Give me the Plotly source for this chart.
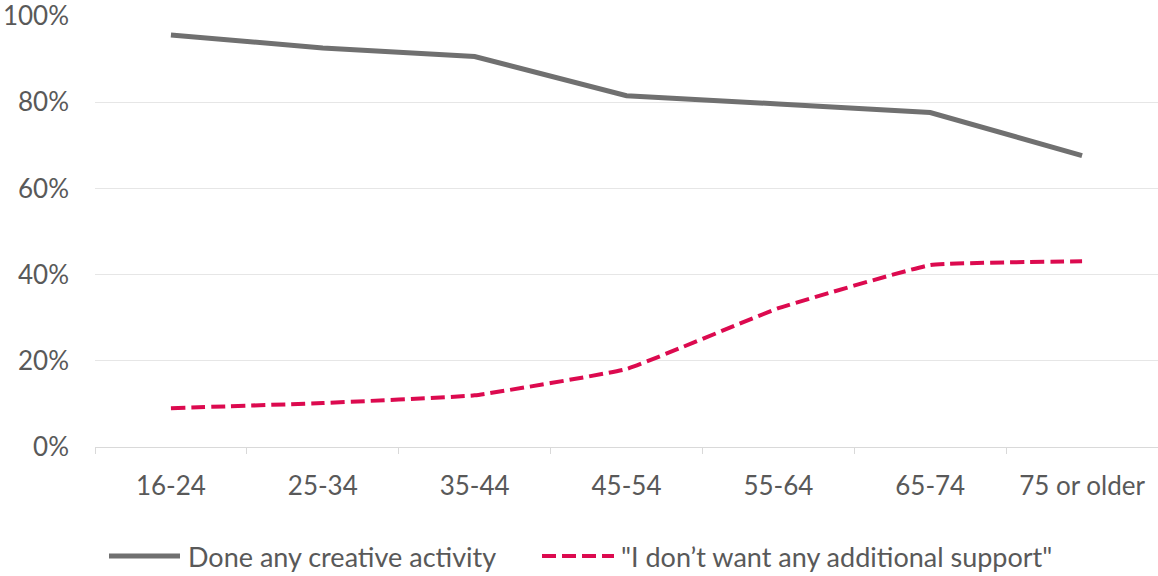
import plotly.graph_objects as go

categories = ["16-24", "25-34", "35-44", "45-54", "55-64", "65-74", "75 or older"]
creative = [0.956, 0.926, 0.906, 0.815, 0.796, 0.776, 0.676]
no_support = [0.09, 0.102, 0.12, 0.181, 0.322, 0.422, 0.431]
series_names = ["Done any creative activity", "\"I don\u2019t want any additional support\""]
y_ticks = [0, 0.2, 0.4, 0.6, 0.8, 1.0]

FONT = "Lato, 'Open Sans', sans-serif"
TXT = "#595959"
GREY = "#707070"
RED = "#DC0A4F"
FS = 26

W, H = 1158, 576
L, R, T, B = 95, 0, 16, 129
PW = W - L - R
PH = H - T - B


def px_x(p):
    return (p - L) / PW


def px_y(p):
    return (H - B - p) / PH


fig = go.Figure()
fig.add_trace(go.Scatter(
    x=categories, y=creative, mode="lines", name=series_names[0],
    line=dict(color=GREY, width=5), showlegend=False,
))
fig.add_trace(go.Scatter(
    x=categories, y=no_support, mode="lines", name=series_names[1],
    line=dict(color=RED, width=4, dash="14px,6px", shape="spline", smoothing=0.3),
    showlegend=False,
))

# custom legend
leg_y = px_y(556)
fig.add_shape(type="line", xref="paper", yref="paper", x0=px_x(109), x1=px_x(180),
              y0=leg_y, y1=leg_y, line=dict(color=GREY, width=5))
fig.add_annotation(xref="paper", yref="paper", x=px_x(186), y=leg_y, text=series_names[0],
                   showarrow=False, xanchor="left", yanchor="middle",
                   font=dict(family=FONT, size=27, color=TXT))
fig.add_shape(type="line", xref="paper", yref="paper", x0=px_x(542), x1=px_x(614),
              y0=leg_y, y1=leg_y, line=dict(color=RED, width=4, dash="14px,6px"))
fig.add_annotation(xref="paper", yref="paper", x=px_x(619), y=leg_y, text=series_names[1],
                   showarrow=False, xanchor="left", yanchor="middle",
                   font=dict(family=FONT, size=27, color=TXT))

fig.update_layout(
    width=W, height=H,
    margin=dict(l=L, r=R, t=T, b=B),
    paper_bgcolor="white", plot_bgcolor="white",
    font=dict(family=FONT, size=FS, color=TXT),
    showlegend=False,
    xaxis=dict(
        type="category", showgrid=False, showline=True, linecolor="#d9d9d9", linewidth=1,
        ticks="outside", tickson="boundaries", ticklen=6, tickcolor="#d9d9d9",
        ticklabelstandoff=16, tickfont=dict(family=FONT, size=FS, color=TXT),
        zeroline=False, range=[-0.5, 6.5],
    ),
    yaxis=dict(
        range=[0, 1.0], tickvals=y_ticks, tickformat=".0%", showgrid=True,
        gridcolor="#e6e6e6", gridwidth=1, zeroline=False, showline=False,
        ticklabelstandoff=25, ticklabeloverflow="allow",
        tickfont=dict(family=FONT, size=FS, color=TXT),
    ),
)

fig.write_html("out.html")
